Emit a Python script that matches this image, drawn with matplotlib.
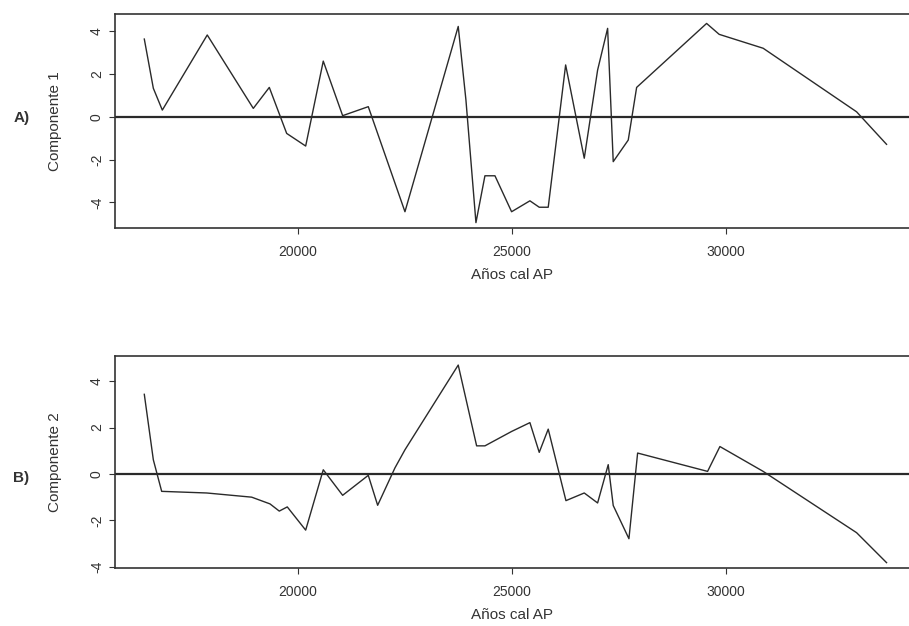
import matplotlib.pyplot as plt

plt.rcParams['font.family'] = ['Liberation Sans', 'DejaVu Sans']

# Componente 1 (panel A)
edad_a = [16409, 16620, 16830, 17880, 18956, 19330, 19736, 20180, 20591,
          21044, 21643, 22500, 23745, 23925, 24159, 24369, 24603, 24992,
          25420, 25638, 25848, 26255, 26690, 27002, 27236, 27367, 27718,
          27914, 29549, 29843, 30871, 33054, 33754]
comp1 = [3.63, 1.33, 0.31, 3.82, 0.39, 1.37, -0.78, -1.37, 2.60,
         0.05, 0.47, -4.44, 4.22, 0.78, -4.95, -2.76, -2.76, -4.44,
         -3.93, -4.23, -4.23, 2.42, -1.94, 2.18, 4.13, -2.10, -1.09,
         1.37, 4.36, 3.85, 3.20, 0.23, -1.29]

# Componente 2 (panel B)
edad_b = [16409, 16620, 16815, 17867, 18918, 19346, 19563, 19750, 20180,
          20591, 21044, 21643, 21862, 22266, 22500, 23745, 24175, 24369,
          24992, 25420, 25638, 25848, 26262, 26690, 27002, 27250, 27367,
          27734, 27937, 29572, 29860, 30871, 33054, 33754]
comp2 = [3.43, 0.61, -0.75, -0.82, -1.00, -1.29, -1.60, -1.42, -2.42,
         0.18, -0.92, -0.06, -1.35, 0.26, 1.04, 4.69, 1.21, 1.21,
         1.83, 2.21, 0.93, 1.93, -1.15, -0.82, -1.25, 0.40, -1.36,
         -2.79, 0.90, 0.11, 1.18, 0.11, -2.53, -3.82]

fig = plt.figure(figsize=(9.09, 6.26), dpi=100)

paneles = [
    (edad_a, comp1, 'Componente 1', 'A)', 0.514, [0.1265, 0.6358, 0.8745, 0.3418], (-5.2, 4.8)),
    (edad_b, comp2, 'Componente 2', 'B)', 0.425, [0.1265, 0.0927, 0.8745, 0.3386], (-4.05, 5.08)),
]

for x, y, ylab, letra, ly, pos, ylim in paneles:
    ax = fig.add_axes(pos)
    ax.plot(x, y, color='#2a2a2a', linewidth=1.0)
    ax.axhline(0, color='#2a2a2a', linewidth=1.6)
    ax.set_xlim(15724, 34300)
    ax.set_ylim(*ylim)
    ax.set_xticks([20000, 25000, 30000])
    ax.set_yticks([-4, -2, 0, 2, 4])
    ax.set_yticklabels(['-4', '-2', '0', '2', '4'], rotation=90, va='center')
    ax.tick_params(colors='#333333', labelcolor='#333333', labelsize=10,
                   length=4, width=0.8)
    ax.tick_params(axis='x', pad=8)
    ax.tick_params(axis='y', pad=4)
    for s in ['left', 'top', 'bottom']:
        ax.spines[s].set_color('#333333')
        ax.spines[s].set_linewidth(1.2)
    ax.spines['right'].set_visible(False)
    ax.set_xlabel('Años cal AP', fontsize=11, color='#333333', labelpad=7)
    ax.set_ylabel(ylab, fontsize=11, color='#333333', labelpad=20)
    ax.text(-0.118, ly, letra, transform=ax.transAxes,
            fontsize=11, fontweight='bold', color='#333333', ha='center', va='center')

fig.savefig('out.png', dpi=100)
